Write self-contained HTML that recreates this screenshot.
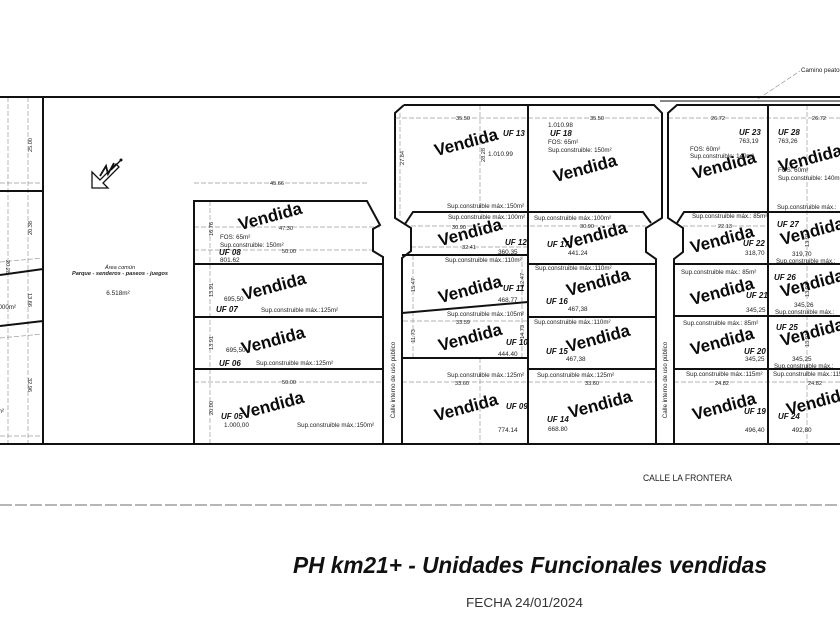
<!DOCTYPE html>
<html><head><meta charset="utf-8"><style>
html,body{margin:0;padding:0;background:#fff;}
svg{display:block}
text{font-family:"Liberation Sans",Arial,sans-serif;}
.s{font-size:6.2px;fill:#222}
.n{font-size:6.4px;fill:#222}
.dm{font-size:5.6px;fill:#222}
.uf{font-size:8px;font-weight:bold;font-style:italic;fill:#111}
.v{font-size:17px;font-weight:bold;fill:#0a0a0a}
.th{stroke:#111;stroke-width:2;fill:none;stroke-linejoin:miter}
.t1{stroke:#111;stroke-width:1;fill:none}
.d{stroke:#9a9a9a;stroke-width:0.7;stroke-dasharray:5 2;fill:none}
</style></head><body>
<svg width="840" height="630" viewBox="0 0 840 630" xmlns="http://www.w3.org/2000/svg">
<rect width="840" height="630" fill="#fff"/>

<!-- dashed construction lines -->
<g class="d">
<path d="M8,97 V444 M28,97 V444 M0,183 H43 M0,262 L43,258 M0,338 L43,334 M0,436 H43"/>
<path d="M194,183 H367 M194,227 H380 M194,250 H373 M194,382 H383 M210,201 V444"/>
<path d="M395,118 H662 M400,113 V218 M480,105 V212 M411,226 H646 M411,247 H528 M413,255 V358 M522,255 V358 M403,321 H528 M480,358 V444 M402,382 H656"/>
<path d="M668,118 H840 M683,226 H768 M807,105 V444 M674,382 H840"/>
<path d="M758,99 L800,71"/>
</g>

<!-- thick boundary lines -->
<g class="th">
<path d="M0,97 H840"/>
<path d="M0,444 H840"/>
<path d="M43,97 V444 M0,191 H43 M0,275 L43,269 M0,326 L43,321"/>
<path d="M194,444 V201 H367 L380,225 L373,229 V251 L383,257 V444"/>
<path d="M194,264 H383 M194,317 H383 M194,369 H383"/>
<path d="M404,105 L395,113 V218 L411,228 V251 L402,258 V444"/>
<path d="M404,105 H654 L662,113 V218 L646,228 V252 L656,259 V444"/>
<path d="M840,105 H677 L668,113 V218 L683,228 V252 L674,259 V444"/>
<path d="M405,224 L413,212 H643 L651,223"/>
<path d="M677,223 L684,212 H840"/>
<path d="M528,105 V444 M768,105 V444"/>
<path d="M402,255 H528 M402,313 L528,302 M402,358 H528"/>
<path d="M528,264 H656 M528,317 H656 M528,369 H656"/>
<path d="M674,264 H840 M674,316 H840 M674,369 H840"/>
</g>
<path class="t1" d="M660,101 H840"/>

<!-- north arrow -->
<path d="M92,172 L92,188 L108,188 L103,183 L119,167 L116,164 L100,180 L95,175 Z" fill="#fff" stroke="#111" stroke-width="1.3"/>
<path d="M100,176 L106,166 L108,174 L114,163" fill="none" stroke="#111" stroke-width="1.8"/>
<path d="M111,170 L121,160" fill="none" stroke="#111" stroke-width="1.4"/>
<circle cx="121" cy="160" r="1.5" fill="#111"/>

<!-- left strip texts -->
<text class="dm" text-anchor="middle" transform="translate(30,145) rotate(-90)" dy="2">25.00</text>
<text class="dm" text-anchor="middle" transform="translate(30,228) rotate(-90)" dy="2">20.38</text>
<text class="dm" text-anchor="middle" transform="translate(30,300) rotate(90)" dy="2">13.66</text>
<text class="dm" text-anchor="middle" transform="translate(30,385) rotate(90)" dy="2">32.96</text>
<text class="dm" text-anchor="middle" transform="translate(8,267) rotate(90)" dy="2">20.28</text>
<text class="s" x="16" y="309" text-anchor="end">1.000m²</text>
<text class="s" x="4" y="413" text-anchor="end">850m²</text>

<!-- area comun -->
<text x="120" y="269" text-anchor="middle" style="font-size:5.6px;font-style:italic;fill:#222">Área común</text>
<text x="120" y="275" text-anchor="middle" style="font-size:5.6px;font-style:italic;font-weight:bold;fill:#222">Parque - senderos - paseos - juegos</text>
<text x="118" y="295" text-anchor="middle" style="font-size:6.4px;fill:#222">6.518m²</text>

<!-- left block UF05-08 -->
<text class="dm" x="277" y="185" text-anchor="middle">45.66</text>
<text class="dm" x="286" y="230" text-anchor="middle">47.30</text>
<text class="dm" x="289" y="253" text-anchor="middle">50.00</text>
<text class="dm" text-anchor="middle" transform="translate(211,229) rotate(-90)" dy="2">16.76</text>
<text class="s" x="220" y="239">FOS:  65m²</text>
<text class="s" x="220" y="247">Sup.construible:  150m²</text>
<text class="uf" x="219" y="255">UF 08</text>
<text class="n" x="220" y="262">801.62</text>

<text class="dm" text-anchor="middle" transform="translate(211,290) rotate(-90)" dy="2">13.91</text>
<text class="n" x="224" y="301">695,50</text>
<text class="uf" x="216" y="312">UF 07</text>
<text class="s" x="261" y="312">Sup.construible  máx.:125m²</text>

<text class="dm" text-anchor="middle" transform="translate(211,343) rotate(-90)" dy="2">13.91</text>
<text class="n" x="226" y="352">695,50</text>
<text class="uf" x="219" y="366">UF 06</text>
<text class="s" x="256" y="365">Sup.construible  máx.:125m²</text>

<text class="dm" x="289" y="384" text-anchor="middle">50.00</text>
<text class="dm" text-anchor="middle" transform="translate(211,408) rotate(-90)" dy="2">20.00</text>
<text class="uf" x="221" y="419">UF 05</text>
<text class="n" x="224" y="427">1.000,00</text>
<text class="s" x="297" y="427">Sup.construible  máx.:150m²</text>

<!-- roads -->
<text class="s" text-anchor="middle" transform="translate(393,380) rotate(-90)" dy="2">Calle  interno  de  uso  público</text>
<text class="s" text-anchor="middle" transform="translate(665,380) rotate(-90)" dy="2">Calle  interno  de  uso  público</text>

<!-- middle block -->
<text class="dm" x="463" y="120" text-anchor="middle">35.50</text>
<text class="dm" x="597" y="120" text-anchor="middle">35.50</text>
<text class="dm" text-anchor="middle" transform="translate(402,158) rotate(-90)" dy="2">27.84</text>
<text class="dm" text-anchor="middle" transform="translate(483,155) rotate(-90)" dy="2">28.28</text>
<text class="uf" x="503" y="136">UF 13</text>
<text class="n" x="488" y="156">1.010.99</text>
<text class="s" x="447" y="208">Sup.construible  máx.:150m²</text>
<text class="n" x="548" y="127">1.010.98</text>
<text class="uf" x="550" y="136">UF 18</text>
<text class="s" x="548" y="144">FOS:  65m²</text>
<text class="s" x="548" y="152">Sup.construible:  150m²</text>

<text class="s" x="448" y="219">Sup.construible  máx.:100m²</text>
<text class="dm" x="459" y="229" text-anchor="middle">30.90</text>
<text class="dm" x="469" y="249" text-anchor="middle">32.41</text>
<text class="uf" x="505" y="245">UF 12</text>
<text class="n" x="498" y="254">360.35</text>
<text class="s" x="445" y="262">Sup.construible  máx.:110m²</text>

<text class="s" x="534" y="220">Sup.construible  máx.:100m²</text>
<text class="dm" x="587" y="228" text-anchor="middle">30.90</text>
<text class="uf" x="547" y="247">UF 17</text>
<text class="n" x="568" y="255">441.24</text>
<text class="s" x="535" y="270">Sup.construible  máx.:110m²</text>

<text class="dm" text-anchor="middle" transform="translate(413,285) rotate(-90)" dy="2">15.47</text>
<text class="dm" text-anchor="middle" transform="translate(522,280) rotate(-90)" dy="2">12.47</text>
<text class="uf" x="503" y="291">UF 11</text>
<text class="n" x="498" y="302">468.77</text>

<text class="s" x="447" y="316">Sup.construible  máx.:105m²</text>
<text class="dm" x="463" y="324" text-anchor="middle">33.59</text>
<text class="dm" text-anchor="middle" transform="translate(413,336) rotate(-90)" dy="2">11.73</text>
<text class="dm" text-anchor="middle" transform="translate(522,332) rotate(-90)" dy="2">14.73</text>
<text class="uf" x="506" y="345">UF 10</text>
<text class="n" x="498" y="356">444.40</text>

<text class="s" x="447" y="377">Sup.construible  máx.:125m²</text>
<text class="dm" x="462" y="385" text-anchor="middle">33.60</text>
<text class="uf" x="506" y="409">UF 09</text>
<text class="n" x="498" y="432">774.14</text>

<text class="uf" x="546" y="304">UF 16</text>
<text class="n" x="568" y="311">467,38</text>
<text class="s" x="534" y="324">Sup.construible  máx.:110m²</text>
<text class="uf" x="546" y="354">UF 15</text>
<text class="n" x="566" y="361">467,38</text>
<text class="s" x="537" y="377">Sup.construible  máx.:125m²</text>
<text class="dm" x="592" y="385" text-anchor="middle">33.60</text>
<text class="uf" x="547" y="422">UF 14</text>
<text class="n" x="548" y="431">668.80</text>

<!-- right block -->
<text class="s" x="801" y="72">Camino peatonal</text>
<text class="dm" x="718" y="120" text-anchor="middle">26.72</text>
<text class="dm" x="819" y="120" text-anchor="middle">26.72</text>
<text class="uf" x="739" y="135">UF 23</text>
<text class="n" x="739" y="143">763,19</text>
<text class="s" x="690" y="151">FOS:  60m²</text>
<text class="s" x="690" y="158">Sup.construible:  140m²</text>
<text class="uf" x="778" y="135">UF 28</text>
<text class="n" x="778" y="143">763,26</text>
<text class="s" x="778" y="172">FOS:  60m²</text>
<text class="s" x="778" y="180">Sup.construible:  140m²</text>
<text class="s" x="777" y="209">Sup.construible  máx.:</text>

<text class="s" x="692" y="218">Sup.construible  máx.: 85m²</text>
<text class="dm" x="725" y="228" text-anchor="middle">22.13</text>
<text class="uf" x="743" y="246">UF 22</text>
<text class="n" x="745" y="255">318,70</text>
<text class="uf" x="777" y="227">UF 27</text>
<text class="dm" text-anchor="middle" transform="translate(807,240) rotate(-90)" dy="2">13.91</text>
<text class="n" x="792" y="256">319,70</text>
<text class="s" x="776" y="263">Sup.construible  máx.:</text>

<text class="s" x="681" y="274">Sup.construible  máx.: 85m²</text>
<text class="uf" x="746" y="298">UF 21</text>
<text class="n" x="746" y="312">345,25</text>
<text class="uf" x="774" y="280">UF 26</text>
<text class="dm" text-anchor="middle" transform="translate(807,290) rotate(-90)" dy="2">13.91</text>
<text class="n" x="794" y="307">345,26</text>
<text class="s" x="775" y="314">Sup.construible  máx.:</text>

<text class="s" x="683" y="325">Sup.construible  máx.: 85m²</text>
<text class="uf" x="744" y="354">UF 20</text>
<text class="n" x="745" y="361">345,25</text>
<text class="uf" x="776" y="330">UF 25</text>
<text class="dm" text-anchor="middle" transform="translate(807,340) rotate(-90)" dy="2">13.91</text>
<text class="n" x="792" y="361">345,25</text>
<text class="s" x="774" y="368">Sup.construible  máx.:</text>

<text class="s" x="686" y="376">Sup.construible  máx.:115m²</text>
<text class="dm" x="722" y="385" text-anchor="middle">24.82</text>
<text class="uf" x="744" y="414">UF 19</text>
<text class="n" x="745" y="432">496,40</text>
<text class="s" x="773" y="376">Sup.construible  máx.:115m²</text>
<text class="dm" x="815" y="385" text-anchor="middle">24.82</text>
<text class="uf" x="778" y="419">UF 24</text>
<text class="n" x="792" y="432">492,80</text>

<!-- Vendida stamps -->
<g class="v" text-anchor="middle">
<text transform="translate(270,216) rotate(-15)" y="6">Vendida</text>
<text transform="translate(274,286) rotate(-15)" y="6">Vendida</text>
<text transform="translate(273,340) rotate(-15)" y="6">Vendida</text>
<text transform="translate(272,405) rotate(-15)" y="6">Vendida</text>
<text transform="translate(466,142) rotate(-15)" y="6">Vendida</text>
<text transform="translate(585,168) rotate(-15)" y="6">Vendida</text>
<text transform="translate(470,232) rotate(-15)" y="6">Vendida</text>
<text transform="translate(595,235) rotate(-15)" y="6">Vendida</text>
<text transform="translate(470,289) rotate(-15)" y="6">Vendida</text>
<text transform="translate(598,282) rotate(-15)" y="6">Vendida</text>
<text transform="translate(470,337) rotate(-15)" y="6">Vendida</text>
<text transform="translate(598,338) rotate(-15)" y="6">Vendida</text>
<text transform="translate(466,407) rotate(-15)" y="6">Vendida</text>
<text transform="translate(600,404) rotate(-15)" y="6">Vendida</text>
<text transform="translate(724,165) rotate(-15)" y="6">Vendida</text>
<text transform="translate(810,158) rotate(-15)" y="6">Vendida</text>
<text transform="translate(722,239) rotate(-15)" y="6">Vendida</text>
<text transform="translate(812,231) rotate(-15)" y="6">Vendida</text>
<text transform="translate(722,291) rotate(-15)" y="6">Vendida</text>
<text transform="translate(812,283) rotate(-15)" y="6">Vendida</text>
<text transform="translate(722,341) rotate(-15)" y="6">Vendida</text>
<text transform="translate(812,332) rotate(-15)" y="6">Vendida</text>
<text transform="translate(724,406) rotate(-15)" y="6">Vendida</text>
<text transform="translate(818,401) rotate(-15)" y="6">Vendida</text>
</g>

<!-- street + dashed line -->
<text x="643" y="481" textLength="89" lengthAdjust="spacingAndGlyphs" style="font-size:9px;fill:#222">CALLE  LA  FRONTERA</text>
<path d="M0,505 H840" stroke="#8a8a8a" stroke-width="1.2" stroke-dasharray="12 3" fill="none"/>

<!-- title -->
<text x="293" y="573" textLength="474" lengthAdjust="spacingAndGlyphs" style="font-size:23px;font-weight:bold;font-style:italic;fill:#111">PH km21+ - Unidades Funcionales vendidas</text>
<text x="466" y="607" textLength="117" lengthAdjust="spacingAndGlyphs" style="font-size:13px;fill:#333">FECHA 24/01/2024</text>
</svg>
</body></html>
